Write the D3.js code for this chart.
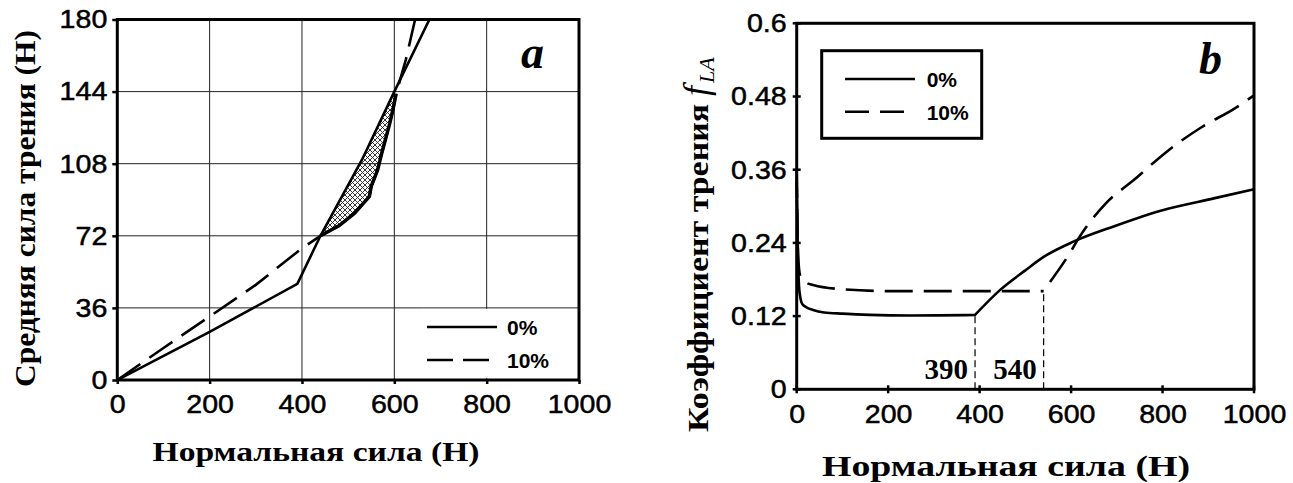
<!DOCTYPE html>
<html>
<head>
<meta charset="utf-8">
<script src="https://cdn.jsdelivr.net/npm/d3@7"></script>
<style>
  body { margin: 0; background: #fff; }
  text { fill: #000; }
</style>
</head>
<body>
<svg id="chart" width="1293" height="483"></svg>
<script>
// ---- data, panel a (mean friction force vs normal force)
var aTicksX = [0, 200, 400, 600, 800, 1000];
var aTicksY = [0, 36, 72, 108, 144, 180];
var a0x = [0, 200, 390, 440, 530, 600, 676];
var a0y = [0, 24, 48, 72, 110, 144, 180];
var a10x = [0, 100, 200, 300, 400, 440, 480, 514, 546, 550, 564, 572, 590, 597, 604, 625, 645];
var a10y = [0, 16, 31.7, 47.5, 65.8, 72, 77, 83.3, 91.7, 96.7, 105, 112.5, 128, 135, 143, 160, 180];
var hatchFrom = 440, hatchTo = 604;

// ---- data, panel b (friction coefficient vs normal force)
var bTicksX = [0, 200, 400, 600, 800, 1000];
var bTicksY = [0, 0.12, 0.24, 0.36, 0.48, 0.6];
var bTickLabels = ["0", "0.12", "0.24", "0.36", "0.48", "0.6"];
var b0x = [0, 1, 2, 3, 5, 8, 12, 20, 36, 60, 100, 160, 250, 390, 445, 500, 540, 605, 693, 802, 912, 1000];
var b0y = [0.34, 0.30, 0.25, 0.21, 0.17, 0.15, 0.14, 0.135, 0.13, 0.126, 0.124, 0.122, 0.121, 0.122, 0.163, 0.195, 0.217, 0.242, 0.267, 0.294, 0.313, 0.328];
var b10x = [0, 1, 3, 8, 20, 36, 100, 200, 540];
var b10y = [0.36, 0.30, 0.22, 0.185, 0.175, 0.171, 0.164, 0.161, 0.161];
var b10riseX = [554, 597, 616, 675, 737, 810, 886, 959, 1000];
var b10riseY = [0.176, 0.223, 0.247, 0.304, 0.343, 0.390, 0.430, 0.461, 0.482];
var bMarks = [390, 540];
var legendNames = ["0%", "10%"];

var svg = d3.select("#chart");
var DASH = "28,11";

function stretch(sel, k) {
  sel.each(function() {
    var w = this.getComputedTextLength();
    d3.select(this).attr("textLength", w * k).attr("lengthAdjust", "spacingAndGlyphs");
  });
}
function zip(xs, ys) { return xs.map(function(x, i) { return [x, ys[i]]; }); }

// ================= panel a =================
var xA = d3.scaleLinear().domain([0, 1000]).range([117.3, 579]);
var yA = d3.scaleLinear().domain([0, 180]).range([380, 19.5]);

var defs = svg.append("defs");
var pat = defs.append("pattern").attr("id", "hatch")
    .attr("patternUnits", "userSpaceOnUse").attr("width", 5).attr("height", 5);
pat.append("path").attr("d", "M0,0L5,5M5,0L0,5")
    .attr("stroke", "#222").attr("stroke-width", 0.9);
defs.append("clipPath").attr("id", "clipA").append("rect")
    .attr("x", xA(0)).attr("y", yA(180)).attr("width", xA(1000) - xA(0)).attr("height", yA(0) - yA(180));

var gA = svg.append("g");

// grid
gA.selectAll(".gx").data(aTicksX.slice(1, -1)).enter().append("line")
    .attr("x1", function(d) { return xA(d); }).attr("x2", function(d) { return xA(d); })
    .attr("y1", yA(0)).attr("y2", yA(180))
    .attr("stroke", "#222").attr("stroke-width", 1);
gA.selectAll(".gy").data(aTicksY.slice(1, -1)).enter().append("line")
    .attr("x1", xA(0)).attr("x2", xA(1000))
    .attr("y1", function(d) { return yA(d); }).attr("y2", function(d) { return yA(d); })
    .attr("stroke", "#222").attr("stroke-width", 1);

// legend background covers the grid
gA.append("rect").attr("x", xA(660)).attr("y", yA(35.5))
    .attr("width", xA(1000) - xA(660) - 2).attr("height", yA(0) - yA(35.5) - 2).attr("fill", "#fff");

// hatched region between the two curves
var s0 = d3.scaleLinear().domain(a0x).range(a0y);
var s10 = d3.scaleLinear().domain(a10x).range(a10y);
var upper = [hatchFrom].concat(a0x.filter(function(x) { return x > hatchFrom && x < hatchTo; }), [hatchTo])
    .map(function(x) { return [x, s0(x)]; });
var lower = [hatchFrom].concat(a10x.filter(function(x) { return x > hatchFrom && x < hatchTo; }), [hatchTo])
    .map(function(x) { return [x, s10(x)]; });
var lineA = d3.line().x(function(d) { return xA(d[0]); }).y(function(d) { return yA(d[1]); });
gA.append("path").attr("d", lineA(upper.concat(lower.slice().reverse())) + "Z")
    .attr("fill", "url(#hatch)").attr("stroke", "none");
gA.append("path").attr("d", lineA(lower))
    .attr("fill", "none").attr("stroke", "#000").attr("stroke-width", 3.5);

var curvesA = gA.append("g").attr("clip-path", "url(#clipA)");
curvesA.append("path").attr("d", lineA(zip(a0x, a0y)))
    .attr("fill", "none").attr("stroke", "#000").attr("stroke-width", 2.6);
curvesA.append("path").attr("d", lineA(zip(a10x, a10y)))
    .attr("fill", "none").attr("stroke", "#000").attr("stroke-width", 2.6)
    .attr("stroke-dasharray", DASH);

// axes
var axA_x = gA.append("g").attr("transform", "translate(0," + yA(0) + ")")
    .call(d3.axisBottom(xA).tickValues(aTicksX).tickFormat(d3.format("d"))
      .tickSizeInner(4).tickSizeOuter(0).tickPadding(10.5));
var axA_y = gA.append("g").attr("transform", "translate(" + xA(0) + ",0)")
    .call(d3.axisLeft(yA).tickValues(aTicksY).tickSizeInner(5).tickSizeOuter(0).tickPadding(5));
[axA_x, axA_y].forEach(function(ax) {
  ax.select(".domain").remove();
  ax.selectAll("line").attr("stroke", "#000").attr("stroke-width", 2.5);
  ax.selectAll("text").attr("font-family", "Liberation Sans, Arial").attr("font-size", 26)
      .attr("stroke", "#000").attr("stroke-width", 0.5);
  stretch(ax.selectAll("text"), 1.1);
});

gA.append("rect").attr("x", xA(0)).attr("y", yA(180))
    .attr("width", xA(1000) - xA(0)).attr("height", yA(0) - yA(180))
    .attr("fill", "none").attr("stroke", "#000").attr("stroke-width", 3);

// legend a
var legA = gA.append("g");
legendNames.forEach(function(name, i) {
  var y = 327 + i * 33;
  legA.append("line").attr("x1", 427).attr("x2", 497).attr("y1", y).attr("y2", y)
      .attr("stroke", "#000").attr("stroke-width", 2.6)
      .attr("stroke-dasharray", i ? "26,10" : null);
  legA.append("text").attr("x", 507).attr("y", y + 8).text(name)
      .attr("font-family", "Liberation Sans, Arial").attr("font-weight", "bold").attr("font-size", 21);
});

gA.append("text").attr("x", 521).attr("y", 68).text("a")
    .attr("font-family", "Liberation Serif, Times New Roman").attr("font-style", "italic")
    .attr("font-weight", "bold").attr("font-size", 46);

// titles a
gA.append("text").attr("x", 316).attr("y", 461).attr("text-anchor", "middle")
    .attr("font-family", "Liberation Serif, Times New Roman").attr("font-weight", "bold").attr("font-size", 28)
    .attr("textLength", 327).attr("lengthAdjust", "spacingAndGlyphs")
    .text("Нормальная сила (Н)");
gA.append("text").attr("transform", "translate(35,0) rotate(-90)")
    .attr("x", -387).attr("y", 0)
    .attr("font-family", "Liberation Serif, Times New Roman").attr("font-weight", "bold").attr("font-size", 29)
    .attr("textLength", 357).attr("lengthAdjust", "spacingAndGlyphs")
    .text("Средняя сила трения (Н)");

// ================= panel b =================
var xB = d3.scaleLinear().domain([0, 1000]).range([796.7, 1254]);
var yB = d3.scaleLinear().domain([0, 0.6]).range([389.3, 23.3]);
var lineB = d3.line().curve(d3.curveMonotoneX)
    .x(function(d) { return xB(d[0]); }).y(function(d) { return yB(d[1]); });
var gB = svg.append("g");

// guide lines at 390 and 540
gB.selectAll(".mark").data(bMarks).enter().append("line")
    .attr("x1", function(d) { return xB(d); }).attr("x2", function(d) { return xB(d); })
    .attr("y1", yB(0))
    .attr("y2", function(d, i) { return yB(i ? b10y[b10y.length - 1] : b0y[b0x.indexOf(390)]); })
    .attr("stroke", "#000").attr("stroke-width", 1.2).attr("stroke-dasharray", "7,4");
gB.selectAll(".markLabel").data(bMarks).enter().append("text")
    .attr("x", function(d) { return xB(d) - 7; }).attr("y", 379)
    .attr("text-anchor", "end")
    .attr("font-family", "Liberation Serif, Times New Roman").attr("font-weight", "bold").attr("font-size", 29)
    .text(function(d) { return d; });

// 0% curve has a sharp corner at 390, so it is drawn in two smooth pieces
var b0pts = zip(b0x, b0y);
var kink = b0x.indexOf(390);
gB.append("path").attr("d", lineB(b0pts.slice(0, kink + 1)) + lineB(b0pts.slice(kink)).replace(/^M/, "L"))
    .attr("fill", "none").attr("stroke", "#000").attr("stroke-width", 2.6)
    .attr("stroke-linejoin", "miter");
gB.append("path").attr("d", lineB(zip(b10x, b10y)))
    .attr("fill", "none").attr("stroke", "#000").attr("stroke-width", 2.6).attr("stroke-dasharray", DASH);
gB.append("path").attr("d", lineB(zip(b10riseX, b10riseY)))
    .attr("fill", "none").attr("stroke", "#000").attr("stroke-width", 2.6).attr("stroke-dasharray", DASH);

var axB_x = gB.append("g").attr("transform", "translate(0," + yB(0) + ")")
    .call(d3.axisBottom(xB).tickValues(bTicksX).tickFormat(d3.format("d")).tickSize(0).tickPadding(15.2));
var axB_y = gB.append("g").attr("transform", "translate(" + xB(0) + ",0)")
    .call(d3.axisLeft(yB).tickValues(bTicksY).tickSize(0).tickPadding(10)
      .tickFormat(function(d, i) { return bTickLabels[i]; }));
[axB_x, axB_y].forEach(function(ax) {
  ax.select(".domain").remove();
  ax.selectAll("text").attr("font-family", "Liberation Sans, Arial").attr("font-size", 26)
      .attr("stroke", "#000").attr("stroke-width", 0.5);
  stretch(ax.selectAll("text"), 1.1);
});
// tick bumps across the axes
gB.selectAll(".tx").data(bTicksX).enter().append("line")
    .attr("x1", function(d) { return xB(d); }).attr("x2", function(d) { return xB(d); })
    .attr("y1", yB(0) - 4).attr("y2", yB(0) + 4).attr("stroke", "#000").attr("stroke-width", 2.5);
gB.selectAll(".ty").data(bTicksY).enter().append("line")
    .attr("x1", xB(0) - 4).attr("x2", xB(0) + 4)
    .attr("y1", function(d) { return yB(d); }).attr("y2", function(d) { return yB(d); })
    .attr("stroke", "#000").attr("stroke-width", 2.5);

gB.append("rect").attr("x", xB(0)).attr("y", yB(0.6))
    .attr("width", xB(1000) - xB(0)).attr("height", yB(0) - yB(0.6))
    .attr("fill", "none").attr("stroke", "#000").attr("stroke-width", 3);

// legend b
gB.append("rect").attr("x", 821.7).attr("y", 50.7).attr("width", 160).attr("height", 87.6)
    .attr("fill", "#fff").attr("stroke", "#000").attr("stroke-width", 3);
legendNames.forEach(function(name, i) {
  var y = 79 + i * 32.7;
  gB.append("line").attr("x1", 845).attr("x2", 915).attr("y1", y).attr("y2", y)
      .attr("stroke", "#000").attr("stroke-width", 2.6)
      .attr("stroke-dasharray", i ? "24,11" : null);
  gB.append("text").attr("x", 926.7).attr("y", y + 8).text(name)
      .attr("font-family", "Liberation Sans, Arial").attr("font-weight", "bold").attr("font-size", 21);
});

gB.append("text").attr("x", 1199).attr("y", 74).text("b")
    .attr("font-family", "Liberation Serif, Times New Roman").attr("font-style", "italic")
    .attr("font-weight", "bold").attr("font-size", 46);

// titles b
gB.append("text").attr("x", 1006).attr("y", 476).attr("text-anchor", "middle")
    .attr("font-family", "Liberation Serif, Times New Roman").attr("font-weight", "bold").attr("font-size", 30)
    .attr("textLength", 368).attr("lengthAdjust", "spacingAndGlyphs")
    .text("Нормальная сила (Н)");
var yt = gB.append("g").attr("transform", "translate(708,0) rotate(-90)");
yt.append("text").attr("x", -432).attr("y", 0)
    .attr("font-family", "Liberation Serif, Times New Roman").attr("font-weight", "bold").attr("font-size", 30)
    .attr("textLength", 328).attr("lengthAdjust", "spacingAndGlyphs")
    .text("Коэффициент трения");
var ft = yt.append("text").attr("x", -96).attr("y", 0)
    .attr("font-family", "Liberation Serif, Times New Roman").attr("font-style", "italic");
ft.append("tspan").attr("font-size", 36).text("f");
ft.append("tspan").attr("font-size", 22).attr("dx", 3).attr("dy", 6).text("LA");
</script>
</body>
</html>
